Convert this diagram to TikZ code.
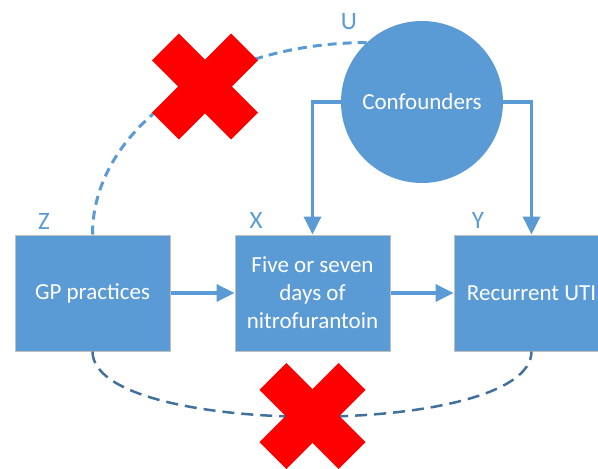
\documentclass[tikz,border=0pt]{standalone}
\usepackage{fontspec}
\setmainfont{Carlito}
\usetikzlibrary{arrows.meta}
\definecolor{obox}{HTML}{5B9BD5}
\definecolor{odark}{HTML}{41719C}
\definecolor{xred}{HTML}{FF0000}
\tikzset{
  box/.style={draw=black!25, line width=1pt, fill=obox, minimum width=155pt, minimum height=116pt,
    inner sep=0pt, text=white, align=center, font=\fontsize{23}{28}\selectfont},
  circ/.style={circle, fill=obox, minimum size=162pt, inner sep=0pt, text=white,
    font=\fontsize{23}{28}\selectfont},
  lbl/.style={text=obox, font=\fontsize{25}{30}\selectfont, inner sep=0pt},
  arr/.style={draw=obox, line width=3.5pt, -{Triangle[length=18pt,width=17pt]}},
  dashtop/.style={draw=obox, line width=3pt, dash pattern=on 9pt off 6pt},
  dashbot/.style={draw=odark, line width=2.5pt, dash pattern=on 12pt off 7pt},
  redx/.style={fill=xred}
}
\begin{document}
\begin{tikzpicture}[x=1pt,y=-1pt]
\path[use as bounding box, clip] (0,0) rectangle (598,469);
\fill[white] (0,0) rectangle (598,469);
% nodes
\node[box] (Z) at (92.5,293) {GP practices};
\node[box] (X) at (312.5,293) {Five or seven\\days of\\nitrofurantoin};
\node[box] (Y) at (531.5,293) {Recurrent UTI};
\node[circ] (U) at (422,102) {Confounders};
% labels
\node[lbl] (lz) at (44,221) {Z};
\node[lbl] (lx) at (256,220) {X};
\node[lbl] (ly) at (478,220) {Y};
\node[lbl] (lu) at (349,22) {U};
% arrows
\draw[arr] (Z.east) -- (X.west);
\draw[arr] (X.east) -- (Y.west);
\draw[arr] (U.west) -| (X.north);
\draw[arr] (U.east) -| (Y.north);
% dashed associations
\draw[dashtop] (Z.north) .. controls +(0,-106) and +(-152,0) .. (U.133);
\draw[dashbot] (Z.south) .. controls +(0,87) and +(0,87) .. (Y.south);
% red crosses
\coordinate (c1) at (205,86.5);
\coordinate (c2) at (312.5,416);
\foreach \c in {c1,c2}{
  \begin{scope}[shift={(\c)}]
    \fill[redx, rotate=45] (-56pt,-19pt) rectangle (56pt,19pt);
    \fill[redx, rotate=-45] (-56pt,-19pt) rectangle (56pt,19pt);
  \end{scope}
}
\end{tikzpicture}
\end{document}
